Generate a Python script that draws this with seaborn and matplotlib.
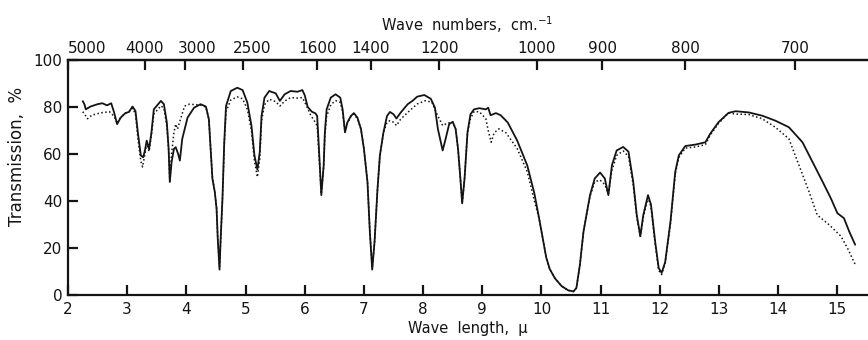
import numpy as np
import pandas as pd
import matplotlib
matplotlib.use("Agg")
import matplotlib.pyplot as plt
import matplotlib.transforms as mtransforms
import seaborn as sns

# ---- data ----
wl_solid = [2.25, 2.28, 2.30, 2.38, 2.50, 2.58, 2.66, 2.73, 2.78, 2.83, 2.89, 2.97, 3.03, 3.09,
            3.14, 3.18, 3.23, 3.27, 3.30, 3.33, 3.37, 3.41, 3.45, 3.57, 3.62, 3.67, 3.70, 3.72,
            3.75, 3.79, 3.82, 3.86, 3.89, 3.93, 4.02, 4.13, 4.24, 4.33, 4.38, 4.41, 4.44, 4.48,
            4.51, 4.53, 4.56, 4.58, 4.61, 4.64, 4.67, 4.75, 4.86, 4.95, 5.03, 5.10, 5.15, 5.20,
            5.24, 5.27, 5.32, 5.40, 5.51, 5.58, 5.66, 5.76, 5.88, 5.96, 6.00, 6.05, 6.12, 6.18,
            6.21, 6.24, 6.28, 6.32, 6.34, 6.37, 6.44, 6.52, 6.60, 6.64, 6.68, 6.72, 6.78, 6.83,
            6.89, 6.95, 7.00, 7.06, 7.10, 7.14, 7.18, 7.23, 7.27, 7.33, 7.39, 7.44, 7.50, 7.55,
            7.62, 7.74, 7.82, 7.90, 8.02, 8.13, 8.20, 8.25, 8.33, 8.38, 8.44, 8.50, 8.55, 8.59,
            8.63, 8.66, 8.70, 8.75, 8.80, 8.86, 8.95, 9.06, 9.10, 9.14, 9.23, 9.31, 9.43, 9.59,
            9.76, 9.88, 9.96, 10.03, 10.08, 10.14, 10.23, 10.34, 10.45, 10.54, 10.59, 10.65,
            10.71, 10.76, 10.82, 10.90, 10.99, 11.07, 11.13, 11.19, 11.27, 11.38, 11.47, 11.55,
            11.61, 11.67, 11.72, 11.80, 11.85, 11.92, 11.98, 12.03, 12.09, 12.18, 12.26, 12.32,
            12.43, 12.60, 12.77, 12.85, 12.99, 13.16, 13.28, 13.50, 13.73, 13.95, 14.18, 14.41,
            14.58, 14.75, 14.89, 15.00, 15.11, 15.20, 15.30]
t_solid = [82.5, 81.0, 79.0, 80.2, 81.2, 81.6, 80.7, 81.6, 77.6, 72.7, 75.5, 77.4, 77.9, 80.2,
           78.3, 69.2, 59.4, 58.6, 61.5, 65.7, 62.2, 69.2, 79.0, 82.6, 81.2, 73.4, 62.2, 48.1,
           56.5, 62.2, 62.9, 60.1, 57.2, 66.4, 75.5, 79.7, 81.2, 80.2, 74.8, 62.2, 49.5, 43.9,
           36.8, 24.2, 10.8, 24.2, 41.1, 65.0, 80.4, 86.8, 88.2, 87.2, 81.9, 72.0, 59.4, 53.4,
           60.8, 76.2, 84.0, 86.8, 85.8, 82.6, 85.4, 86.8, 86.5, 87.2, 85.0, 80.0, 78.0, 77.3,
           76.2, 62.2, 42.5, 55.1, 69.2, 79.0, 84.0, 85.4, 84.0, 79.0, 69.2, 73.4, 76.2, 77.4,
           75.5, 70.6, 62.2, 48.1, 27.0, 10.8, 22.8, 45.3, 59.4, 69.2, 76.2, 77.9, 76.9, 75.1,
           77.6, 81.2, 82.6, 84.4, 85.1, 83.5, 79.7, 70.6, 61.5, 66.4, 72.7, 73.7, 70.6, 62.2,
           49.5, 39.0, 49.5, 69.2, 76.9, 79.0, 79.5, 79.0, 79.7, 76.5, 77.4, 76.5, 73.4, 65.7,
           55.1, 43.2, 32.6, 23.0, 16.0, 11.0, 7.0, 3.8, 2.0, 1.5, 3.0, 13.0,
           27.0, 34.0, 42.5, 49.6, 52.1, 49.6, 42.5, 55.2, 61.5, 63.0, 61.0, 48.2,
           34.0, 25.0, 34.0, 42.5, 38.5, 22.8, 11.5, 9.4, 14.0, 31.3, 52.4, 59.4,
           63.4, 64.0, 65.0, 68.6, 73.5, 77.5, 78.2, 77.7, 76.3, 74.2, 71.4, 65.0,
           56.6, 48.2, 41.1, 34.8, 32.7, 27.0, 21.4]

wl_dotted = [2.25, 2.28, 2.33, 2.40, 2.55, 2.70, 2.78, 2.83, 2.89, 2.97, 3.03, 3.09, 3.14, 3.18,
             3.23, 3.26, 3.30, 3.33, 3.37, 3.41, 3.45, 3.57, 3.62, 3.67, 3.70, 3.72, 3.75, 3.79,
             3.82, 3.85, 3.90, 3.97, 4.05, 4.24, 4.33, 4.38, 4.41, 4.44, 4.46, 4.48, 4.51, 4.53,
             4.56, 4.58, 4.61, 4.64, 4.67, 4.75, 4.86, 4.95, 5.03, 5.10, 5.15, 5.20, 5.24, 5.27,
             5.32, 5.40, 5.51, 5.58, 5.66, 5.76, 5.88, 5.96, 6.04, 6.10, 6.16, 6.21, 6.24, 6.28,
             6.32, 6.34, 6.37, 6.44, 6.52, 6.60, 6.64, 6.68, 6.72, 6.78, 6.83, 6.89, 6.95, 7.00,
             7.06, 7.10, 7.14, 7.18, 7.23, 7.27, 7.33, 7.39, 7.44, 7.50, 7.55, 7.62, 7.74, 7.90,
             8.04, 8.15, 8.22, 8.33, 8.40, 8.50, 8.55, 8.59, 8.63, 8.66, 8.70, 8.75, 8.80, 8.86,
             8.95, 9.06, 9.10, 9.15, 9.20, 9.28, 9.40, 9.59, 9.76, 9.88, 9.96, 10.03, 10.08,
             10.14, 10.23, 10.34, 10.45, 10.54, 10.59, 10.65, 10.71, 10.76, 10.82, 10.90, 10.99,
             11.07, 11.13, 11.19, 11.27, 11.38, 11.47, 11.55, 11.61, 11.67, 11.72, 11.80, 11.85,
             11.92, 11.98, 12.03, 12.09, 12.18, 12.26, 12.32, 12.43, 12.60, 12.77, 12.85, 12.99,
             13.16, 13.28, 13.50, 13.73, 13.95, 14.18, 14.35, 14.52, 14.66, 14.86, 15.06, 15.17,
             15.30]
t_dotted = [78.0, 77.0, 75.0, 76.5, 77.5, 78.0, 76.0, 73.0, 75.5, 77.4, 78.0, 79.5, 77.0, 67.0,
            57.0, 54.5, 60.0, 64.5, 61.0, 68.0, 77.0, 80.5, 79.5, 72.0, 62.0, 48.5, 60.0, 69.2,
            72.7, 70.6, 74.8, 80.4, 81.2, 80.8, 80.0, 74.8, 62.0, 50.0, 47.0, 44.0, 37.0, 24.0,
            12.0, 24.0, 41.0, 64.0, 78.0, 83.0, 84.3, 83.5, 79.0, 70.0, 57.0, 50.2, 58.0, 74.0,
            81.0, 83.3, 82.3, 80.4, 82.5, 84.0, 83.8, 84.0, 80.0, 76.5, 74.2, 72.0, 60.0, 43.0,
            55.0, 68.0, 76.0, 81.0, 82.7, 82.0, 78.0, 69.2, 73.0, 76.0, 77.0, 75.0, 70.6, 62.2,
            48.1, 27.0, 11.5, 22.8, 45.3, 59.4, 69.2, 73.5, 74.2, 73.5, 72.1, 74.8, 77.7, 81.3,
            82.7, 82.0, 77.7, 72.1, 73.0, 73.7, 70.6, 62.2, 49.5, 39.0, 49.5, 69.2, 75.0, 78.0,
            78.0, 75.0, 70.0, 65.0, 69.0, 70.7, 69.0, 62.3, 52.4, 40.0, 32.6, 23.0, 16.0,
            11.0, 7.0, 3.8, 2.0, 1.5, 3.0, 13.0, 27.0, 34.0, 42.0, 48.2, 48.9,
            47.0, 43.0, 53.0, 59.4, 61.3, 59.0, 47.0, 33.0, 25.0, 33.0, 41.5, 37.5,
            22.0, 10.5, 8.7, 13.5, 30.5, 51.5, 58.5, 62.5, 63.0, 64.0, 68.0, 73.0,
            77.5, 77.0, 76.8, 75.0, 71.4, 66.5, 55.2, 44.0, 34.0, 29.9, 25.0, 20.0,
            13.0]

bottom_ticks = list(range(2, 16))
y_ticks = [0, 20, 40, 60, 80, 100]
top_tick_pos = [2.0, 3.3, 3.97, 4.96, 6.21, 7.12, 8.27, 9.92, 11.03, 12.43, 14.28]
top_tick_labels = ["5000", "4000", "3000", "2500", "1600", "1400", "1200", "1000", "900", "800", "700"]

# ---- styling ----
sns.set_theme(style="ticks")
plt.rcParams["font.family"] = ["DejaVu Sans"]
ink = "#141414"

df_s = pd.DataFrame({"wl": wl_solid, "T": t_solid})
df_d = pd.DataFrame({"wl": wl_dotted, "T": t_dotted})

fig = plt.figure(figsize=(8.68, 3.40), dpi=100)
ax = fig.add_axes([68 / 868, 45 / 340, 799 / 868, 235 / 340])

sns.lineplot(data=df_d, x="wl", y="T", sort=False, estimator=None, ax=ax,
             color=ink, linestyle=(0, (1, 1.6)), linewidth=1.1)
sns.lineplot(data=df_s, x="wl", y="T", sort=False, estimator=None, ax=ax,
             color=ink, linewidth=1.3)

ax.set_xlim(2, 15.5)
ax.set_ylim(0, 100)
ax.set_xticks(bottom_ticks)
ax.set_yticks(y_ticks)
ax.tick_params(axis="both", direction="in", length=7, width=1.6, colors=ink,
               labelsize=11, labelcolor=ink)
ax.tick_params(axis="x", pad=5)
ax.tick_params(axis="y", pad=4)
for s in ["left", "bottom", "top"]:
    ax.spines[s].set_linewidth(1.6)
    ax.spines[s].set_color(ink)
ax.spines["right"].set_visible(False)

ax.set_xlabel("Wave  length,  \u03bc", fontsize=10.5, color=ink, labelpad=3)
ax.set_ylabel("Transmission,  %", fontsize=12, color=ink)
ax.yaxis.set_label_coords(-0.052, 0.59)

sec = ax.secondary_xaxis("top")
sec.set_xticks(top_tick_pos, top_tick_labels)
sec.tick_params(direction="in", length=7, width=1.6, colors=ink, labelsize=11,
                labelcolor=ink, pad=3)
sec.spines["top"].set_linewidth(1.6)
sec.spines["top"].set_color(ink)
sec.set_xlabel("Wave  numbers,  cm.$^{-1}$", fontsize=10.5, color=ink, labelpad=7)

offsets = {"5000": 19, "3000": 13, "2500": 9}
for lab in sec.get_xticklabels():
    dx = offsets.get(lab.get_text(), 0)
    if dx:
        lab.set_transform(lab.get_transform() +
                          mtransforms.ScaledTranslation(dx / 100, 0, fig.dpi_scale_trans))

fig.savefig("out.png", dpi=100, facecolor="white")
